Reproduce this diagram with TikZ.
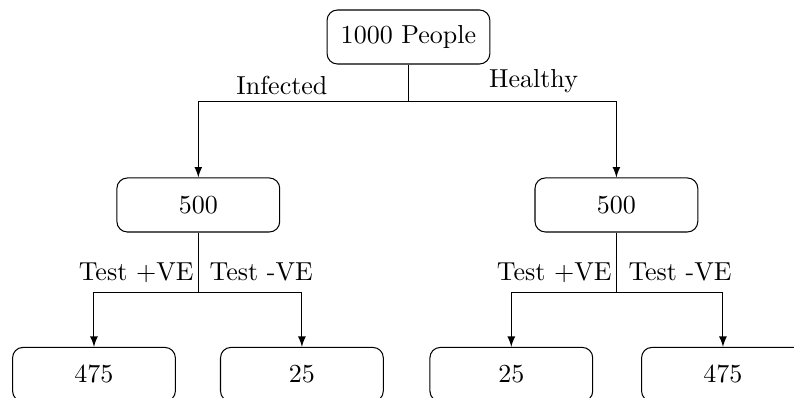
\documentclass[tikz,border=0pt]{standalone}
\usepackage{amsmath}
\usepackage{tikz}

\tikzset{box/.style={draw, rounded corners, minimum width=2.2cm, minimum height=0.73cm}}

\begin{document}
\begin{tikzpicture}
         \useasboundingbox (0,0) rectangle (10.73,-5.37);
         \node[box] (top) at (5.52,-0.50) {1000 People};
         \node[box] (inf) at (2.68,-2.77) {500};
         \node[box] (hea) at (8.33,-2.77) {500};
         \node[box] (infpos) at (1.27,-5.06) {475};
         \node[box] (infneg) at (4.08,-5.06) {25};
         \node[box] (heapos) at (6.91,-5.06) {25};
         \node[box] (heaneg) at (9.77,-5.06) {475};
         \coordinate (splittop) at (5.52,-1.37);
         \coordinate (splitinf) at (2.68,-3.95);
         \coordinate (splithea) at (8.33,-3.95);
         \draw [-latex] (top.south) -- (splittop) -| (inf.north);
         \draw [-latex] (splittop) -| (hea.north);
         \draw [-latex] (inf.south) -- (splitinf) -| (infpos.north);
         \draw [-latex] (splitinf) -| (infneg.north);
         \draw [-latex] (hea.south) -- (splithea) -| (heapos.north);
         \draw [-latex] (splithea) -| (heaneg.north);
         \node (linf) at (3.81,-1.15) {Infected};
         \node (lhea) at (7.21,-1.10) {Healthy};
         \node (lip) at (1.84,-3.68) {Test +VE};
         \node (lin) at (3.53,-3.68) {Test -VE};
         \node (lhp) at (7.49,-3.68) {Test +VE};
         \node (lhn) at (9.19,-3.68) {Test -VE};
       \end{tikzpicture}
\end{document}
